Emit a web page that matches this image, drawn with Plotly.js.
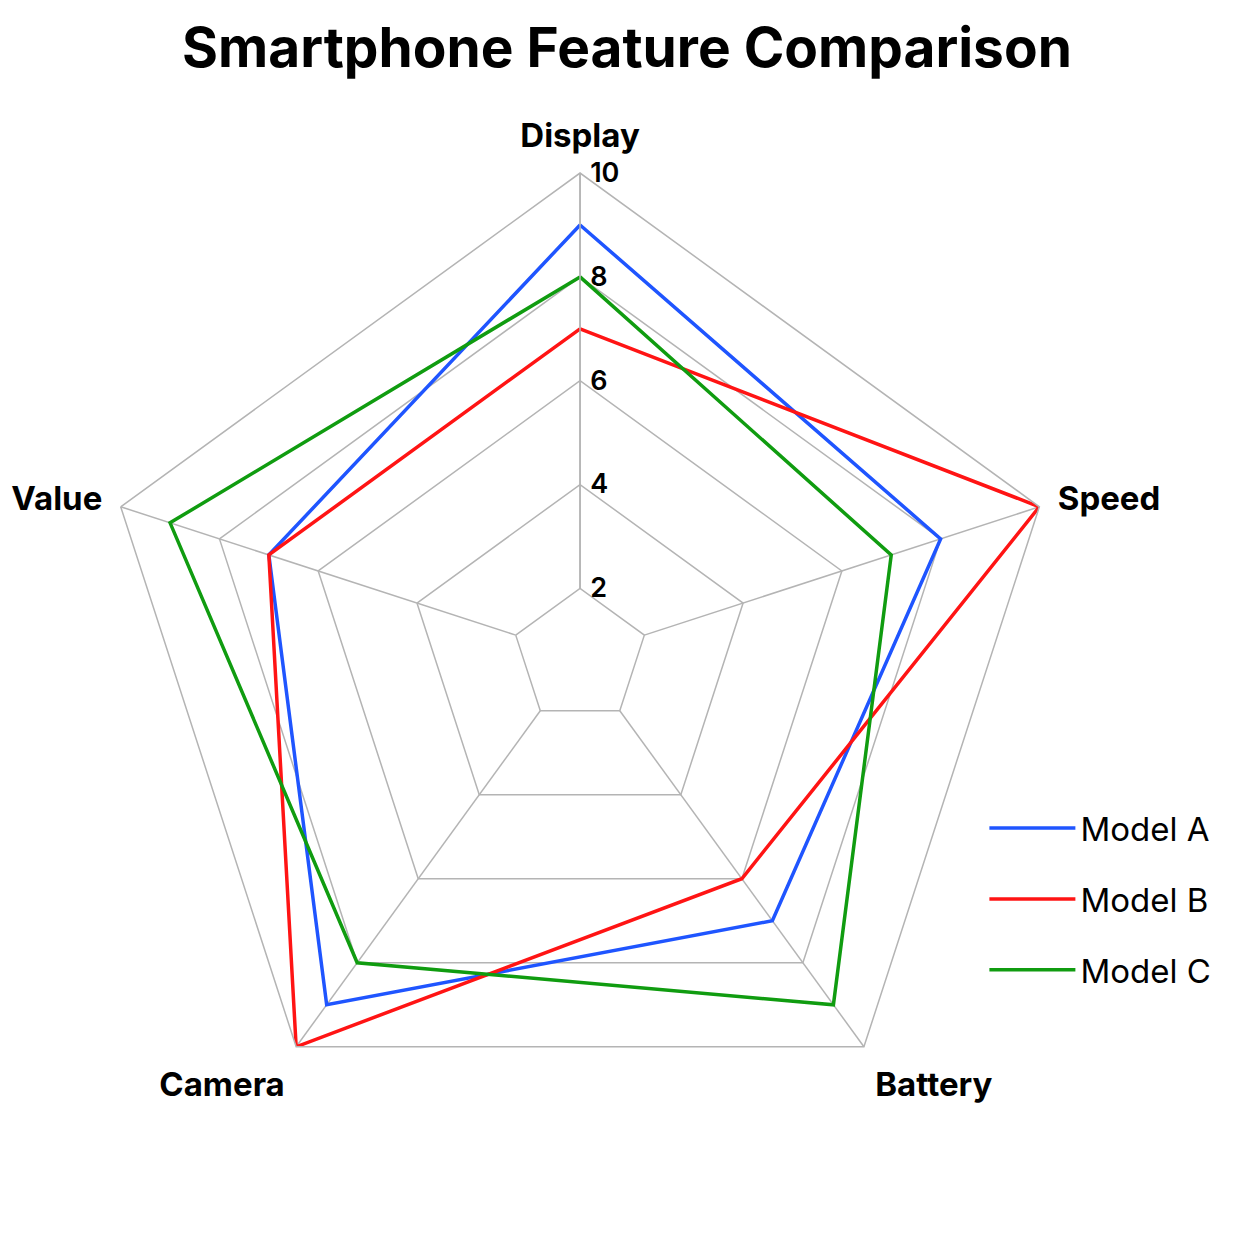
<!DOCTYPE html>
<html>
<head>
<meta charset="utf-8">
<script src="https://cdn.plot.ly/plotly-3.0.1.min.js"></script>
<style>html,body{margin:0;padding:0;background:#fff;}#chart{width:1254px;height:1254px;}</style>
</head>
<body>
<div id="chart"></div>
<script>
const categories = ["Display", "Speed", "Battery", "Camera", "Value"];
const seriesNames = ["Model A", "Model B", "Model C"];
const modelA = [9, 8, 7, 9, 7];
const modelB = [7, 10, 6, 10, 7];
const modelC = [8, 7, 9, 8, 9];
const seriesColors = ["#1f55ff", "#ff1414", "#109c10"];
const radialTicks = [2, 4, 6, 8, 10];

const allValues = [modelA, modelB, modelC];
const traces = allValues.map((vals, i) => ({
  type: "scatterpolar",
  mode: "lines",
  r: vals.concat([vals[0]]),
  theta: categories.concat([categories[0]]),
  name: seriesNames[i],
  legendgroup: "g" + i,
  line: {color: seriesColors[i], width: 3.5},
  fill: "none",
  cliponaxis: false
}));

const layout = {
  width: 1254,
  height: 1254,
  paper_bgcolor: "#ffffff",
  margin: {l: 0, r: 0, t: 0, b: 0},
  title: {
    text: "<b>Smartphone Feature Comparison</b>",
    font: {family: "Inter, Roboto, sans-serif", size: 55, color: "#000"},
    x: 0.5, xanchor: "center",
    y: 0.962, yanchor: "middle", yref: "container"
  },
  polar: {
    domain: {x: [0.0774, 0.8477], y: [0.0909, 0.8628]},
    gridshape: "linear",
    hole: 0.14,
    bgcolor: "rgba(0,0,0,0)",
    radialaxis: {
      range: [2, 10],
      tickvals: radialTicks,
      ticktext: radialTicks.map(String),
      angle: 90,
      tickangle: 90,
      side: "clockwise",
      showline: true,
      linecolor: "#b4b4b4",
      linewidth: 1.5,
      gridcolor: "#b4b4b4",
      gridwidth: 1.5,
      ticks: "outside",
      ticklen: 4,
      tickcolor: "rgba(0,0,0,0)",
      tickfont: {family: "Inter, Roboto, sans-serif", size: 27, color: "#000", weight: 600}
    },
    angularaxis: {
      rotation: 90,
      direction: "clockwise",
      showline: true,
      linecolor: "#b4b4b4",
      linewidth: 1.5,
      gridcolor: "#b4b4b4",
      gridwidth: 1.5,
      ticks: "outside",
      ticklen: 12,
      tickcolor: "rgba(0,0,0,0)",
      tickfont: {family: "Inter, Roboto, sans-serif", size: 33, color: "#000", weight: 700}
    }
  },
  showlegend: true,
  legend: {
    x: 0.785, xanchor: "left",
    y: 0.362, yanchor: "top",
    font: {family: "Inter, Roboto, sans-serif", size: 33, color: "#000"},
    itemwidth: 86,
    tracegroupgap: 25,
    bgcolor: "rgba(0,0,0,0)"
  }
};

Plotly.newPlot("chart", traces, layout, {displayModeBar: false, staticPlot: true});
</script>
</body>
</html>
